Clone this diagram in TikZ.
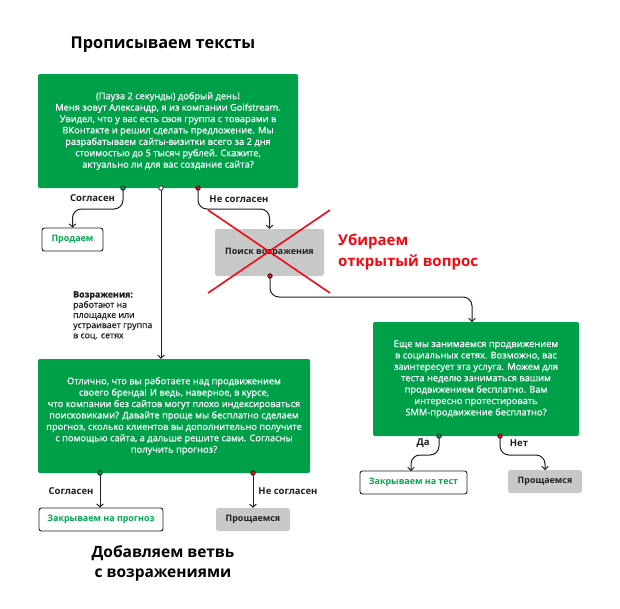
\documentclass[tikz,border=0pt]{standalone}
\usepackage{fontspec}
\setmainfont{Open Sans}
\newfontfamily\medfont[FakeBold=0.6]{Open Sans}
\usetikzlibrary{arrows.meta}
\definecolor{gr}{RGB}{0,160,75}
\definecolor{grt}{RGB}{0,168,80}
\definecolor{gy}{RGB}{200,200,200}
\definecolor{rd}{RGB}{240,10,20}
\definecolor{dk}{RGB}{30,30,30}
\tikzset{
  greenbox/.style={fill=gr,rounded corners=2pt,text=white,align=center,font=\medfont\fontsize{9.3}{11.4}\selectfont,inner sep=0pt},
  whitebox/.style={draw=dk,line width=0.9pt,fill=white,rounded corners=2.5pt,text=grt,font=\bfseries\fontsize{8.9}{10}\selectfont,inner sep=0pt},
  graybox/.style={fill=gy,rounded corners=2.5pt,text=dk,font=\bfseries\fontsize{8.9}{10}\selectfont,inner sep=0pt},
  conn/.style={draw=dk,line width=1pt,rounded corners=9pt,-{Straight Barb[length=3pt,width=6.5pt]}},
  lab/.style={text=dk,font=\bfseries\fontsize{9.5}{10}\selectfont,inner sep=0pt},
  dotg/.style={circle,draw=dk,line width=0.8pt,fill=gr,minimum size=4.5pt,inner sep=0pt},
  dotw/.style={circle,draw=dk,line width=0.8pt,fill=white,minimum size=4.5pt,inner sep=0pt},
  dotr/.style={circle,draw=dk,line width=0.8pt,fill=rd,minimum size=4.5pt,inner sep=0pt},
  ttl/.style={text=black,font=\bfseries\fontsize{16.3}{20}\selectfont,align=center,inner sep=0pt}
}
\begin{document}
\begin{tikzpicture}[x=1pt,y=-1pt]
\useasboundingbox[fill=white] (0,0) rectangle (620,608);

\node[ttl] (t1) at (163,45) {Прописываем тексты};

\node[greenbox,minimum width=260pt,minimum height=114pt] (b1) at (168,131)
{(Пауза 2 секунды) добрый день!\\Меня зовут Александр, я из компании Golfstream.\\Увидел, что у вас есть своя группа с товарами в\\ВКонтакте и решил сделать предложение. Мы\\разрабатываем сайты-визитки всего за 2 дня\\стоимостью до 5 тысяч рублей. Скажите,\\актуально ли для вас создание сайта?};

\node[whitebox,minimum width=61pt,minimum height=23pt] (prod) at (72.5,239.5) {Продаем};
\node[graybox,minimum width=109pt,minimum height=47pt] (srch) at (269.5,252.5) {Поиск возражения};

\node[greenbox,minimum width=272pt,minimum height=114pt] (b2) at (174,416)
{Отлично, что вы работаете над продвижением\\своего бренда! И ведь, наверное, в курсе,\\что компании без сайтов могут плохо индексироваться\\поисковиками? Давайте проще мы бесплатно сделаем\\прогноз, сколько клиентов вы дополнительно получите\\с помощью сайта, а дальше решите сами. Согласны\\получить прогноз?};

\node[greenbox,minimum width=206pt,minimum height=114pt] (b3) at (476,379)
{Еще мы занимаемся продвижением\\в социальных сетях. Возможно, вас\\заинтересует эта услуга. Можем для\\теста неделю заниматься вашим\\продвижением бесплатно. Вам\\интересно протестировать\\SMM-продвижение бесплатно?};

\node[whitebox,minimum width=107pt,minimum height=23pt] (ctest) at (413.5,482.5) {Закрываем на тест};
\node[graybox,minimum width=74pt,minimum height=23pt] (bye1) at (545,481.5) {Прощаемся};
\node[whitebox,minimum width=124pt,minimum height=23pt] (cfor) at (101,519.5) {Закрываем на прогноз};
\node[graybox,minimum width=74pt,minimum height=23pt] (bye2) at (253,519.5) {Прощаемся};

% dots
\coordinate (d1g) at (123,188);
\coordinate (d1w) at (161,188);
\coordinate (d1r) at (198,188);
\coordinate (d2r) at (270,276);
\coordinate (d3g) at (439,436);
\coordinate (d3r) at (500,436);
\coordinate (d4g) at (100,473);
\coordinate (d4r) at (253,473);

% connectors
\draw[conn] (d1g) -- (123,209) -- (72.5,209) -- (prod.north);
\draw[conn] (d1w) -- (d1w |- b2.north);
\draw[conn] (d1r) -- (198,209) -- (269.5,209) -- (srch.north);
\draw[conn] (d2r) -- (270,297) -- (472,297) -- (472,322);
\draw[conn] (d3g) -- (439,455) -- (411,455) -- (411,471);
\draw[conn] (d3r) -- (500,455) -- (545,455) -- (545,470);
\draw[conn] (d4g) -- (d4g |- cfor.north);
\draw[conn] (d4r) -- (d4r |- bye2.north);

\node[dotg] at (d1g) {};
\node[dotw] at (d1w) {};
\node[dotr] at (d1r) {};
\node[dotr] at (d2r) {};
\node[dotg] at (d3g) {};
\node[dotr] at (d3r) {};
\node[dotg] at (d4g) {};
\node[dotr] at (d4r) {};

% labels
\node[lab] (l1) at (92.5,198) {Согласен};
\node[lab] (l2) at (239,199) {Не согласен};
\node[lab] (l3) at (423,443) {Да};
\node[lab] (l4) at (519,443) {Нет};
\node[lab] (l5) at (71,491) {Согласен};
\node[lab] (l6) at (288,491) {Не согласен};
\node[lab,anchor=north west,align=left,font=\medfont\fontsize{8.8}{10.2}\selectfont] (obj) at (73,291)
{\textbf{Возражения:}\\работают на\\площадке или\\устраивает группа\\в соц. сетях};

% red cross
\draw[rd,line width=1.6pt] (208,210) -- (330,293);
\draw[rd,line width=1.6pt] (330,210) -- (208,293);
\node[text=rd,font=\bfseries\fontsize{15}{21}\selectfont,align=left,anchor=west,inner sep=0pt] (rm) at (338,252.5) {Убираем\\открытый вопрос};

\node[ttl,font=\bfseries\fontsize{15.5}{20}\selectfont] (t2) at (163,563) {Добавляем ветвь\\с возражениями};
\end{tikzpicture}
\end{document}
